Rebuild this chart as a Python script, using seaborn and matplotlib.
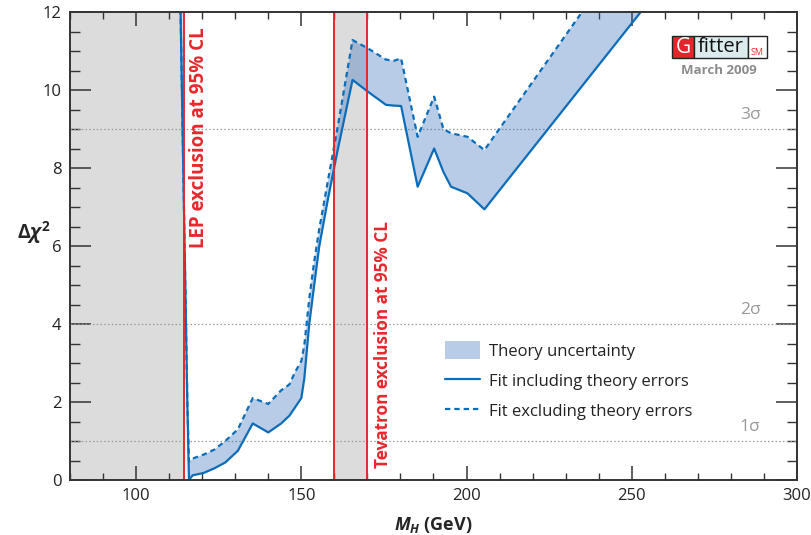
import numpy as np
import pandas as pd
import matplotlib
matplotlib.use("Agg")
import matplotlib.pyplot as plt
import seaborn as sns
from matplotlib.patches import Rectangle, Patch
from matplotlib.lines import Line2D
from matplotlib.ticker import MultipleLocator

# Higgs mass scan (GeV) and Delta chi^2 of the electroweak fit
mh = [113.4, 115.5, 116.0, 117.1, 120.4, 123.7, 127.0, 130.8, 135.3, 140.0,
      143.9, 146.4, 148.0, 150.0, 150.9, 152.4, 153.9, 155.4, 158.0, 161.0,
      165.5, 170.1, 175.6, 178.0, 180.2, 185.2, 190.2, 193.0, 195.3, 200.3,
      205.4, 260.0]
chi2_with_theory = [12.3, 2.0, 0.0, 0.12, 0.18, 0.30, 0.45, 0.75, 1.45, 1.22,
                    1.45, 1.65, 1.85, 2.10, 2.60, 4.00, 5.00, 5.98, 7.18, 8.46,
                    10.26, 9.96, 9.62, 9.60, 9.59, 7.52, 8.50, 7.90, 7.52, 7.35,
                    6.94, 12.78]
chi2_without_theory = [12.3, 2.0, 0.47, 0.55, 0.65, 0.78, 1.00, 1.30, 2.10, 1.95,
                       2.30, 2.45, 2.75, 3.05, 3.45, 4.65, 5.60, 6.42, 7.65, 9.05,
                       11.28, 11.07, 10.78, 10.75, 10.81, 8.80, 9.83, 9.00, 8.89, 8.80,
                       8.46, 15.0]

# Direct search exclusions (GeV)
lep_limit = 114.4
tevatron_range = (160.0, 170.0)
sigma_levels = [1, 4, 9]
sigma_labels = ["1σ", "2σ", "3σ"]

legend_labels = ["Theory uncertainty", "Fit including theory errors",
                 "Fit excluding theory errors"]

BLUE = "#0b6dba"
BAND = "#346dbd"
RED = "#e8272d"
GREY_BAND = "#dcdcdd"
SPINE = "#333333"

sns.set_theme(style="ticks")
plt.rcParams["font.family"] = ["Open Sans", "DejaVu Sans"]
plt.rcParams["mathtext.fontset"] = "custom"
plt.rcParams["mathtext.it"] = "Open Sans:italic:bold"
plt.rcParams["mathtext.bf"] = "Open Sans:bold"
plt.rcParams["mathtext.rm"] = "Open Sans:bold"

df = pd.DataFrame({"mh": mh, "with": chi2_with_theory, "without": chi2_without_theory})

fig = plt.figure(figsize=(8.11, 5.35), dpi=100)
ax = fig.add_axes([70 / 811, 1 - 480 / 535, 727 / 811, 468 / 535])

# excluded regions
ax.axvspan(80, lep_limit, color=GREY_BAND, lw=0, zorder=0)
ax.axvspan(*tevatron_range, color=GREY_BAND, lw=0, zorder=0)

# sigma reference lines
for lvl, lab in zip(sigma_levels, sigma_labels):
    ax.axhline(lvl, color="#999999", lw=0.9, ls=(0, (1.2, 1.8)), zorder=1)
    ax.text(285.8, lvl + 0.15, lab, color="#9a9a9a", fontsize=12.5,
            ha="center", va="bottom", zorder=2)

# theory uncertainty band
ax.fill_between(df["mh"], df["with"], df["without"], color=BAND, alpha=0.35,
                lw=0, zorder=2)

sns.lineplot(data=df, x="mh", y="without", ax=ax, color=BLUE, lw=1.6,
             linestyle=(0, (2.4, 1.8)), zorder=3)
sns.lineplot(data=df, x="mh", y="with", ax=ax, color=BLUE, lw=1.6, zorder=4)

# exclusion limits
for xv in [lep_limit, *tevatron_range]:
    ax.axvline(xv, color=RED, lw=1.4, zorder=5)

ax.text(118.9, 11.6, "LEP exclusion at 95% CL", rotation=90, color=RED,
        fontsize=13.5, fontweight="bold", ha="center", va="top", zorder=6)
ax.text(174.8, 0.3, "Tevatron exclusion at 95% CL", rotation=90, color=RED,
        fontsize=12.3, fontweight="bold", ha="center", va="bottom", zorder=6)

ax.set_xlim(80, 300)
ax.set_ylim(0, 12)
ax.xaxis.set_major_locator(MultipleLocator(50))
ax.xaxis.set_minor_locator(MultipleLocator(10))
ax.yaxis.set_major_locator(MultipleLocator(2))
ax.yaxis.set_minor_locator(MultipleLocator(0.5))
ax.tick_params(axis="both", which="both", direction="in", top=True, right=True,
               color=SPINE, labelsize=12, labelcolor="#222222")
ax.tick_params(axis="x", which="major", length=10, width=1.1, pad=6)
ax.tick_params(axis="x", which="minor", length=5, width=1.0)
ax.tick_params(axis="y", which="major", length=15, width=1.1, pad=6)
ax.tick_params(axis="y", which="minor", length=7, width=1.0)
for sp in ax.spines.values():
    sp.set_color(SPINE)
    sp.set_linewidth(1.4)
    sp.set_zorder(7)

ax.set_xlabel(r"$M_{H}$ (GeV)", fontsize=13, fontweight="bold", labelpad=8)
ax.set_ylabel(r"$\mathbf{\Delta}\chi^{\mathbf{2}}$", fontsize=14, rotation=0,
              labelpad=4)
ax.yaxis.set_label_coords(-0.05, 0.5)

handles = [Patch(facecolor=BAND, alpha=0.35, edgecolor="none"),
           Line2D([], [], color=BLUE, lw=1.6),
           Line2D([], [], color=BLUE, lw=1.6, linestyle=(0, (2.4, 1.8)))]
leg = ax.legend(handles, legend_labels, loc="upper left",
                bbox_to_anchor=(0.495, 0.328), frameon=False, fontsize=12,
                handlelength=2.1, handleheight=1.2, labelspacing=0.72,
                handletextpad=0.55)
for t in leg.get_texts():
    t.set_color("#222222")

# Gfitter logo
def fpx(x, y):
    return x / 811, 1 - y / 535

def box(x0, x1, y0, y1, fc):
    fig.patches.append(Rectangle(fpx(x0, y1), (x1 - x0) / 811, (y1 - y0) / 535,
                                 transform=fig.transFigure, facecolor=fc,
                                 edgecolor="#222222", lw=1.0, zorder=10))

box(672, 694, 36, 58, "#e3262b")
box(694, 748, 36, 58, "#dcecee")
box(748, 767, 36, 58, "white")
fig.text(*fpx(683, 47.5), "G", color="white", fontsize=15, ha="center",
         va="center", zorder=11)
fig.text(*fpx(721, 46.5), "fitter", color="#111111", fontsize=14.5, ha="center",
         va="center", zorder=11)
fig.text(*fpx(757.5, 52), "SM", color=RED, fontsize=6.5, ha="center",
         va="center", zorder=11)
fig.text(*fpx(719, 70), "March 2009", color="#8c8c8c", fontsize=9.5,
         fontweight="bold", ha="center", va="center", zorder=11)

fig.savefig("out.png", dpi=100)
